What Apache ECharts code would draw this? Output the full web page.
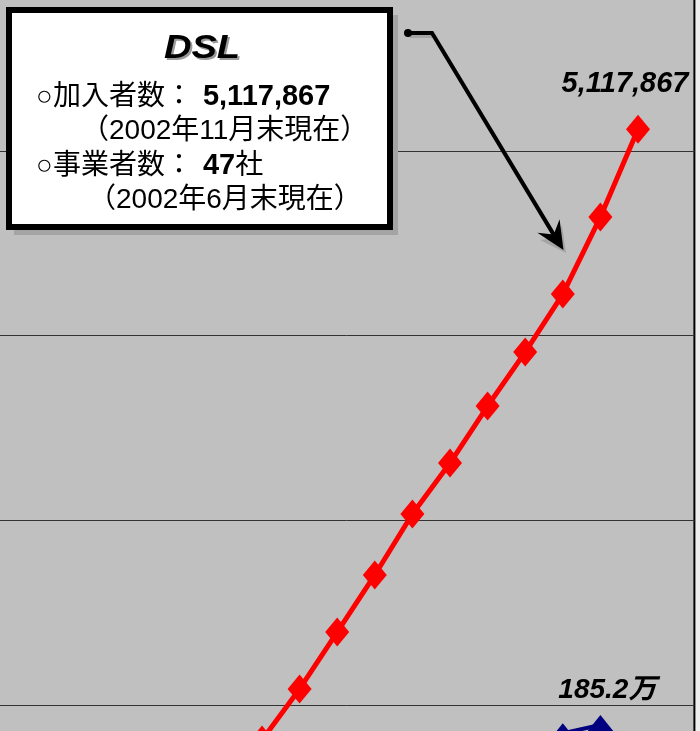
<!DOCTYPE html>
<html>
<head>
<meta charset="utf-8">
<script src="https://cdn.jsdelivr.net/npm/echarts@6/dist/echarts.min.js"></script>
<style>
  html, body { margin: 0; padding: 0; background: #eeeeee; }
  #chart { width: 700px; height: 731px; }
</style>
</head>
<body>
<div id="chart"></div>
<script>
// ---- data ----
const months = [
  '2001/1','2001/2','2001/3','2001/4','2001/5','2001/6','2001/7','2001/8','2001/9','2001/10','2001/11','2001/12',
  '2002/1','2002/2','2002/3','2002/4','2002/5','2002/6','2002/7','2002/8','2002/9','2002/10','2002/11','2002/12'
];
// DSL subscribers (visible part of the chart)
const dslValues = [
  null, null, null, null, null, null, null, null, null, null, null, null,
  1810000, 2087000, 2395000, 2704000, 3034000, 3310000, 3619000, 3911000, 4225000, 4642000, 5117867, null
];
// Cable internet subscribers (only the tips are visible at the bottom edge)
const catvValues = [
  null, null, null, null, null, null, null, null, null, null, null, null,
  null, null, null, null, null, null, null, null, 1847000, 1892000, null, null
];
const catvLabel = '185.2万';
const yTicks = { min: 1000000, max: 6000000, interval: 1000000 };

const boxTitle = 'DSL';
const boxLines = [
  '{n|○加入者数：}{b|5,117,867}',
  '{n|（2002年11月末現在）}',
  '{n|○事業者数：}{b|47}{n|社}',
  '{n|（2002年6月末現在）}'
];

// ---- chart ----
const FONT = "'Liberation Sans', Arial, 'Noto Sans CJK JP', sans-serif";
const chart = echarts.init(document.getElementById('chart'));

const lastDsl = dslValues.reduce((a, v, i) => v != null ? i : a, -1);
const lastCatv = catvValues.reduce((a, v, i) => v != null ? i : a, -1);

const richStyles = {
  n: { fontFamily: FONT, fontSize: 28, fontWeight: 'normal', fill: '#000', color: '#000' },
  b: { fontFamily: FONT, fontSize: 29, fontWeight: 'bold', fill: '#000', color: '#000', padding: [0, 0, 0, 10] }
};

function textEl(x, y, rich) {
  return {
    type: 'text', x: x, y: y, z: 110,
    style: {
      text: rich, x: 0, y: 0,
      align: 'left', textAlign: 'left',
      verticalAlign: 'middle', textVerticalAlign: 'middle',
      font: '28px ' + FONT, fill: '#000',
      rich: richStyles
    }
  };
}

const option = {
  backgroundColor: '#eeeeee',
  animation: false,
  grid: {
    left: -208, top: -33.67, width: 902.4, height: 923.33,
    containLabel: false, outerBoundsMode: 'none',
    show: true, backgroundColor: '#c0c0c0', borderColor: '#000', borderWidth: 2
  },
  xAxis: {
    type: 'category', data: months, boundaryGap: true,
    axisLine: { show: false }, axisTick: { show: false }, axisLabel: { show: false },
    splitLine: { show: false }
  },
  yAxis: {
    type: 'value', min: yTicks.min, max: yTicks.max, interval: yTicks.interval,
    axisLine: { show: false }, axisTick: { show: false }, axisLabel: { show: false },
    splitLine: { show: true, lineStyle: { color: '#333', width: 1 } }
  },
  series: [
    {
      name: 'CATV', type: 'line', data: catvValues,
      lineStyle: { color: '#000080', width: 4 },
      itemStyle: { color: '#000080' },
      symbol: 'triangle', symbolSize: [32, 20], showAllSymbol: true,
      label: {
        show: true, position: 'top', distance: 11, offset: [7, 0],
        fontFamily: FONT, fontSize: 28, fontWeight: 'bold', fontStyle: 'italic', color: '#000',
        formatter: p => p.dataIndex === lastCatv ? catvLabel : ''
      },
      z: 3
    },
    {
      name: 'DSL', type: 'line', data: dslValues,
      lineStyle: { color: '#ff0000', width: 5 },
      itemStyle: { color: '#ff0000' },
      symbol: 'diamond', symbolSize: [24, 29], showAllSymbol: true,
      label: {
        show: true, position: 'top', distance: 16, offset: [-13, 0],
        fontFamily: FONT, fontSize: 29, fontWeight: 'bold', fontStyle: 'italic', color: '#000',
        formatter: p => p.dataIndex === lastDsl ? p.value.toLocaleString('en-US') : ''
      },
      z: 4
    }
  ],
  graphic: [
    // callout box shadow + box
    { type: 'rect', z: 100, shape: { x: 14, y: 15, width: 384, height: 220 }, style: { fill: '#a4a4a4' } },
    { type: 'rect', z: 101, shape: { x: 9, y: 10, width: 381, height: 217 },
      style: { fill: '#ffffff', stroke: '#000000', lineWidth: 6 } },
    // title with shadow
    { type: 'text', x: 204, y: 51, scaleX: 1.12, z: 109,
      style: { text: boxTitle, x: 0, y: 0, align: 'center', textAlign: 'center', verticalAlign: 'middle', textVerticalAlign: 'middle',
               font: 'italic bold 34px ' + FONT, fill: '#9a9a9a' } },
    { type: 'text', x: 202, y: 49, scaleX: 1.12, z: 110,
      style: { text: boxTitle, x: 0, y: 0, align: 'center', textAlign: 'center', verticalAlign: 'middle', textVerticalAlign: 'middle',
               font: 'italic bold 34px ' + FONT, fill: '#000' } },
    textEl(36, 97, boxLines[0]),
    textEl(81, 131, boxLines[1]),
    textEl(36, 166, boxLines[2]),
    textEl(88, 200, boxLines[3]),
    // arrow shadow
    { type: 'polyline', z: 98, shape: { points: [[410, 36], [434, 36], [556, 238]] },
      style: { stroke: '#a4a4a4', lineWidth: 4, fill: null } },
    { type: 'polygon', z: 98, shape: { points: [[566, 253], [540, 240], [556, 238], [562, 225]] },
      style: { fill: '#a4a4a4' } },
    // arrow
    { type: 'circle', z: 99, shape: { cx: 408, cy: 33, r: 4 }, style: { fill: '#000' } },
    { type: 'polyline', z: 99, shape: { points: [[408, 33], [432, 33], [553.7, 234.6]] },
      style: { stroke: '#000', lineWidth: 4, fill: null, lineJoin: 'miter' } },
    { type: 'polygon', z: 99, shape: { points: [[563.5, 250], [537.4, 232.7], [553.7, 234.6], [559.6, 219.3]] },
      style: { fill: '#000' } }
  ]
};
chart.setOption(option);
</script>
</body>
</html>
